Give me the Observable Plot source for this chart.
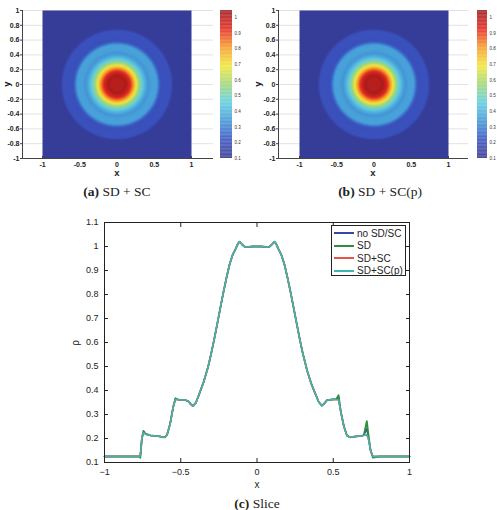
<!DOCTYPE html>
<html><head><meta charset="utf-8">
<script src="https://cdn.jsdelivr.net/npm/d3@7"></script>
<script src="https://cdn.jsdelivr.net/npm/@observablehq/plot@0.6"></script>
<style>
body{margin:0;background:#fff;}
#root{position:relative;width:497px;height:510px;overflow:hidden;font-family:"Liberation Sans",Arial,sans-serif;}
.box{position:absolute;}
.box svg{overflow:visible;}
.t{position:absolute;transform:translate(-50%,-50%);white-space:nowrap;color:#222;line-height:1;}
.cap{font-family:"Liberation Serif","DejaVu Serif",serif;font-size:13.5px;color:#222;}
.lbl{font-size:9.5px;font-weight:bold;color:#222;}
#legend{position:absolute;left:331px;top:225px;width:73px;height:49px;border:1px solid #222;background:#fff;font-size:10px;color:#222;}
#legend .row{position:absolute;left:2px;height:12px;display:flex;align-items:center;}
#legend .sw{width:20px;height:0;border-top:2px solid;margin-right:3px;}
</style></head><body><div id="root"></div>
<script>
// slice data (x positions and rho for each run)
const xs = [-1, -0.9, -0.8, -0.77, -0.765, -0.755, -0.745, -0.73, -0.7, -0.65, -0.62, -0.605, -0.59, -0.57, -0.55, -0.535, -0.52, -0.5, -0.47, -0.45, -0.435, -0.42, -0.4, -0.375, -0.35, -0.32, -0.3, -0.28, -0.26, -0.24, -0.22, -0.2, -0.18, -0.16, -0.14, -0.125, -0.115, -0.1, -0.08, -0.06, -0.03, 0,
  0.03, 0.06, 0.08, 0.1, 0.115, 0.125, 0.14, 0.16, 0.18, 0.2, 0.22, 0.24, 0.26, 0.28, 0.3, 0.33, 0.355, 0.38, 0.405, 0.425, 0.44, 0.46, 0.49, 0.52, 0.535, 0.55, 0.57, 0.59, 0.61, 0.63, 0.67, 0.7, 0.72, 0.73, 0.745, 0.76, 0.8, 0.9, 1];
const rhoNoSDSC = [0.125, 0.125, 0.125, 0.125, 0.128, 0.2, 0.226, 0.218, 0.213, 0.21, 0.206, 0.205, 0.215, 0.26, 0.33, 0.364, 0.362, 0.36, 0.36, 0.355, 0.343, 0.335, 0.35, 0.392, 0.435, 0.5, 0.555, 0.615, 0.68, 0.745, 0.81, 0.87, 0.925, 0.965, 0.99, 1.012, 1.02, 1.01, 0.998, 0.998, 1.0, 1.0,
  1.0, 0.998, 0.998, 1.01, 1.02, 1.012, 0.99, 0.965, 0.925, 0.87, 0.81, 0.745, 0.68, 0.615, 0.555, 0.48, 0.43, 0.39, 0.352, 0.337, 0.345, 0.36, 0.362, 0.364, 0.372, 0.31, 0.25, 0.212, 0.205, 0.207, 0.21, 0.213, 0.24, 0.205, 0.15, 0.125, 0.125, 0.125, 0.125];
const rhoSD = [0.125, 0.125, 0.125, 0.125, 0.12, 0.2, 0.232, 0.22, 0.213, 0.21, 0.206, 0.205, 0.215, 0.26, 0.33, 0.368, 0.363, 0.36, 0.36, 0.355, 0.343, 0.335, 0.35, 0.392, 0.435, 0.5, 0.555, 0.615, 0.68, 0.745, 0.81, 0.87, 0.925, 0.965, 0.99, 1.012, 1.02, 1.01, 0.998, 0.998, 1.0, 1.0,
  1.0, 0.998, 0.998, 1.01, 1.02, 1.012, 0.99, 0.965, 0.925, 0.87, 0.81, 0.745, 0.68, 0.615, 0.555, 0.48, 0.43, 0.39, 0.352, 0.337, 0.345, 0.36, 0.362, 0.364, 0.38, 0.31, 0.25, 0.212, 0.205, 0.207, 0.21, 0.213, 0.272, 0.22, 0.15, 0.12, 0.125, 0.125, 0.125];
const rhoSDSC = [0.125, 0.125, 0.125, 0.125, 0.13, 0.2, 0.225, 0.218, 0.213, 0.21, 0.206, 0.205, 0.215, 0.26, 0.33, 0.362, 0.362, 0.36, 0.36, 0.355, 0.343, 0.335, 0.35, 0.392, 0.435, 0.5, 0.555, 0.615, 0.68, 0.745, 0.81, 0.87, 0.925, 0.965, 0.99, 1.012, 1.02, 1.01, 0.998, 0.998, 1.0, 1.0,
  1.0, 0.998, 0.998, 1.01, 1.02, 1.012, 0.99, 0.965, 0.925, 0.87, 0.81, 0.745, 0.68, 0.615, 0.555, 0.48, 0.43, 0.39, 0.352, 0.337, 0.345, 0.36, 0.362, 0.362, 0.36, 0.31, 0.25, 0.212, 0.205, 0.207, 0.21, 0.213, 0.215, 0.2, 0.15, 0.125, 0.125, 0.125, 0.125];
const rhoSDSCp = [0.125, 0.125, 0.125, 0.125, 0.13, 0.2, 0.225, 0.218, 0.213, 0.21, 0.206, 0.205, 0.215, 0.26, 0.33, 0.362, 0.362, 0.36, 0.36, 0.355, 0.343, 0.335, 0.35, 0.392, 0.435, 0.5, 0.555, 0.615, 0.68, 0.745, 0.81, 0.87, 0.925, 0.965, 0.99, 1.012, 1.02, 1.01, 0.998, 0.998, 1.0, 1.0,
  1.0, 0.998, 0.998, 1.01, 1.02, 1.012, 0.99, 0.965, 0.925, 0.87, 0.81, 0.745, 0.68, 0.615, 0.555, 0.48, 0.43, 0.39, 0.352, 0.337, 0.345, 0.36, 0.362, 0.362, 0.36, 0.31, 0.25, 0.212, 0.205, 0.207, 0.21, 0.213, 0.215, 0.2, 0.15, 0.125, 0.125, 0.125, 0.125];

const seriesNames = ["no SD/SC", "SD", "SD+SC", "SD+SC(p)"];
const seriesColors = ["#3446a8", "#2f8f3a", "#e8524a", "#3fb6b0"];

const heatXTicks = [-1, -0.5, 0, 0.5, 1];
const heatYTicks = [-1, -0.8, -0.6, -0.4, -0.2, 0, 0.2, 0.4, 0.6, 0.8, 1];
const cbarTicks = [0.1, 0.2, 0.3, 0.4, 0.5, 0.6, 0.7, 0.8, 0.9, 1];
const sliceXTicks = [-1, -0.5, 0, 0.5, 1];
const sliceYTicks = [0.1, 0.2, 0.3, 0.4, 0.5, 0.6, 0.7, 0.8, 0.9, 1, 1.1];

const captions = ["(a)", " SD + SC", "(b)", " SD + SC(p)", "(c)", " Slice"];

// jet-like colour map (style)
const colorDomain = [0.1, 0.218, 0.33, 0.454, 0.57, 0.69, 0.81, 0.927, 1.045];
const colorRange = ["#35378f", "#3a52bf", "#4192d6", "#5fcde0", "#9fd67a", "#f2e63a", "#f59a2a", "#e3291f", "#9a181a"];
const colorScale = {type: "linear", domain: colorDomain, range: colorRange, clamp: true};

const root = document.getElementById("root");
function place(el, left, top) {
  const d = document.createElement("div");
  d.className = "box"; d.style.left = left + "px"; d.style.top = top + "px";
  d.appendChild(el); root.appendChild(d); return d;
}
function text(str, x, y, cls, extra) {
  const d = document.createElement("div");
  d.className = "t " + cls; d.style.left = x + "px"; d.style.top = y + "px";
  if (extra) Object.assign(d.style, extra);
  d.innerHTML = str; root.appendChild(d); return d;
}

// radial lookup of the slice profile for the 2D field
function profileLookup(series) {
  const px = [], pv = [];
  xs.forEach((x, i) => { if (x >= 0) { px.push(x); pv.push(series[i]); } });
  return r => {
    if (r >= px[px.length - 1]) return pv[pv.length - 1];
    const i = Math.max(1, d3.bisectRight(px, r));
    const t = (r - px[i - 1]) / (px[i] - px[i - 1]);
    return pv[i - 1] + t * (pv[i] - pv[i - 1]);
  };
}
const N = 149, M = 148;
function grid(series) {
  const f = profileLookup(series);
  const v = new Array(N * M);
  for (let j = 0; j < M; j++) for (let i = 0; i < N; i++) {
    const x = -1 + (i + 0.5) * 2 / N, y = 1 - (j + 0.5) * 2 / M;
    v[j * N + i] = f(Math.hypot(x, y));
  }
  return v;
}

function heat(series, width, mL, xDomain) {
  return Plot.plot({
    width, height: 182, marginLeft: mL, marginRight: 2, marginTop: 10, marginBottom: 24,
    style: {background: "transparent", fontFamily: "Liberation Sans, Arial, sans-serif"},
    x: {domain: xDomain}, y: {domain: [-1, 1]},
    color: colorScale,
    marks: [
      Plot.gridY(heatYTicks, {stroke: "#e2e2e2", strokeOpacity: 1}),
      Plot.raster(grid(series), {width: N, height: M, x1: -1, x2: 1, y1: 1, y2: -1, fill: d => d, imageRendering: "auto"}),
      Plot.ruleY([-1], {stroke: "#444"}),
      Plot.ruleX([xDomain[0]], {stroke: "#444"}),
      Plot.axisY(heatYTicks, {tickSize: 2, tickPadding: 1, tickFormat: d => String(d), fontSize: 7, fill: "#222", fontWeight: "bold", stroke: "#444", label: null}),
      Plot.axisX(heatXTicks, {tickSize: -2, tickPadding: 6, tickFormat: d => String(d), fontSize: 7, fill: "#222", fontWeight: "bold", stroke: "#444", label: null})
    ]
  });
}
const cbarLevels = d3.range(0.1, 1.045, 0.005);
function cbar(width, mR) {
  return Plot.plot({
    width, height: 182, marginLeft: 5, marginRight: mR, marginTop: 10, marginBottom: 24,
    style: {background: "transparent", fontFamily: "Liberation Sans, Arial, sans-serif"},
    x: {domain: [0, 1], axis: null}, y: {domain: [0.1, 1.045]},
    color: colorScale,
    marks: [
      Plot.rect(cbarLevels, {x1: 0, x2: 1, y1: d => d, y2: d => Math.min(1.045, d + 0.0055), fill: d => d + 0.0025}),
      Plot.axisY(cbarTicks, {anchor: "right", tickSize: 0, tickPadding: 2, tickFormat: d => String(d), fontSize: 4.5, fill: "#333", label: null})
    ]
  });
}

place(heat(rhoSDSC, 215, 22, [-1 - 20 / 74.5, 1 + 22 / 74.5]), 0, 0);
place(cbar(35, 18), 215, 0);
place(heat(rhoSDSCp, 220, 28, [-1 - 21 / 74.5, 1 + 20 / 74.5]), 250, 0);
place(cbar(25, 10), 472, 0);

text("x", 117, 173, "lbl");
text("y", 7, 84, "lbl", {transform: "translate(-50%,-50%) rotate(-90deg)"});
text("x", 373, 173, "lbl");
text("y", 258, 84, "lbl", {transform: "translate(-50%,-50%) rotate(-90deg)"});
text("<b>" + captions[0] + "</b>" + captions[1], 117, 192, "cap");
text("<b>" + captions[2] + "</b>" + captions[3], 380, 192, "cap");

// slice plot
const fmt = d => (d < 0 ? "\u2212" : "") + String(Math.abs(d));
const allSeries = [rhoNoSDSC, rhoSD, rhoSDSC, rhoSDSCp];
const slice = Plot.plot({
  width: 497, height: 290, marginLeft: 104, marginRight: 88, marginTop: 22, marginBottom: 28,
  style: {background: "transparent", fontFamily: "Liberation Sans, Arial, sans-serif"},
  x: {domain: [-1, 1]}, y: {domain: [0.1, 1.1]},
  marks: [
    ...allSeries.map((s, k) => Plot.line(xs.map((x, i) => [x, s[i]]), {stroke: seriesColors[k], strokeWidth: k === 1 ? 1.8 : 1.5})),
    Plot.frame({stroke: "#222"}),
    Plot.axisX(sliceXTicks, {anchor: "bottom", tickSize: -4, tickPadding: 10, tickFormat: fmt, fontSize: 9, fill: "#222", stroke: "#222", label: null}),
    Plot.axisX(sliceXTicks, {anchor: "top", tickSize: -4, tickFormat: () => "", stroke: "#222", label: null}),
    Plot.axisY(sliceYTicks, {anchor: "left", tickSize: -4, tickPadding: 10, tickFormat: d => String(d), fontSize: 9, fill: "#222", stroke: "#222", label: null}),
    Plot.axisY(sliceYTicks, {anchor: "right", tickSize: -4, tickFormat: () => "", stroke: "#222", label: null})
  ]
});
place(slice, 0, 200);

text("x", 257, 485, "", {fontSize: "10px"});
text("\u03c1", 76, 343, "", {fontSize: "10px", transform: "translate(-50%,-50%) rotate(-90deg)"});
text("<b>" + captions[4] + "</b>" + captions[5], 257, 504, "cap");

const lg = document.createElement("div");
lg.id = "legend";
seriesNames.forEach((n, k) => {
  const r = document.createElement("div");
  r.className = "row"; r.style.top = (1 + k * 12.5) + "px";
  r.innerHTML = `<span class="sw" style="border-color:${seriesColors[k]}"></span><span>${n}</span>`;
  lg.appendChild(r);
});
root.appendChild(lg);
</script></body></html>
